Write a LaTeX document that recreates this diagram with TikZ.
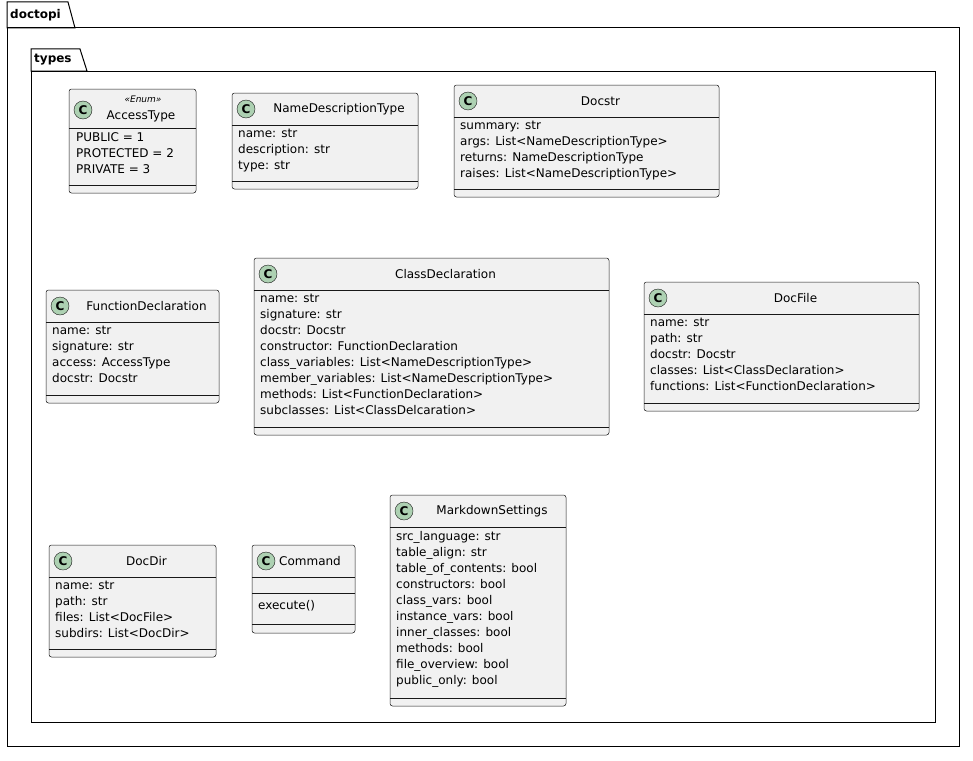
\documentclass[tikz,border=0pt]{standalone}
\usepackage{fontspec}
\setmainfont{DejaVu Sans}
\definecolor{clsfill}{HTML}{F1F1F1}
\definecolor{clsline}{HTML}{181818}
\definecolor{iconfill}{HTML}{ADD1B2}
\tikzset{
  cls/.style={draw=clsline, fill=clsfill, rounded corners=2.5pt, line width=0.5pt},
  pkg/.style={draw=black, line width=1pt},
  icon/.style={circle, draw=clsline, fill=iconfill, minimum size=18pt, inner sep=0pt, font=\fontsize{12}{12}\selectfont\bfseries},
  fields/.style={anchor=north west, align=left, inner sep=0pt, font=\fontsize{12}{16}\selectfont},
  title/.style={inner sep=0pt, font=\fontsize{12}{14}\selectfont},
}
% name, left, top, right, bottom, title, fields
\newcommand{\umlcls}[7]{%
  \draw[cls] (#2,#3) rectangle (#4,#5);
  \draw[clsline] (#2,#3+32) -- (#4,#3+32);
  \draw[clsline] (#2,#5-8) -- (#4,#5-8);
  \node[icon] (#1-icon) at (#2+14,#3+16) {C};
  \node[title] (#1) at ({(#2+28+#4)/2},#3+16) {#6};
  \node[fields] (#1-fields) at (#2+6,#3+36) {#7};
}
\begin{document}
\begin{tikzpicture}[x=1pt, y=-1pt]
\useasboundingbox (0,0) rectangle (973,760);
% packages
\draw[pkg, fill=white] (7,28) -- (7,2) -- (68,2) -- (75,28) -- cycle;
\node[font=\fontsize{12}{12}\selectfont\bfseries, anchor=west, inner sep=0pt] (doctopi) at (10,15) {doctopi};
\draw[pkg] (7,28) rectangle (959,746);
\draw[pkg] (31,71) -- (31,49) -- (80,49) -- (87,71) -- cycle;
\node[font=\fontsize{12}{12}\selectfont\bfseries, anchor=west, inner sep=0pt] (types) at (34,60) {types};
\draw[pkg] (31,71) rectangle (935,722);
% classes
\draw[cls] (69,89) rectangle (196,193);
\draw[clsline] (69,128) -- (196,128);
\draw[clsline] (69,185) -- (196,185);
\node[icon] (access-icon) at (83,110) {C};
\node[title, font=\fontsize{9}{9}\selectfont\itshape] (access-st) at (143,99) {«Enum»};
\node[title] (access) at (141,116) {AccessType};
\node[fields] (access-fields) at (76,132) {PUBLIC = 1\\PROTECTED = 2\\PRIVATE = 3};
\umlcls{namedesc}{232}{93}{418}{189}{NameDescriptionType}{name: str\\description: str\\type: str}
\umlcls{docstr}{454}{85}{719}{197}{Docstr}{summary: str\\args: List<NameDescriptionType>\\returns: NameDescriptionType\\raises: List<NameDescriptionType>}
\umlcls{funcdecl}{46}{290}{219}{403}{FunctionDeclaration}{name: str\\signature: str\\access: AccessType\\docstr: Docstr}
\umlcls{classdecl}{254}{258}{609}{435}{ClassDeclaration}{name: str\\signature: str\\docstr: Docstr\\constructor: FunctionDeclaration\\class\_variables: List<NameDescriptionType>\\member\_variables: List<NameDescriptionType>\\methods: List<FunctionDeclaration>\\subclasses: List<ClassDelcaration>}
\umlcls{docfile}{644}{282}{919}{411}{DocFile}{name: str\\path: str\\docstr: Docstr\\classes: List<ClassDeclaration>\\functions: List<FunctionDeclaration>}
\umlcls{docdir}{49}{545}{216}{657}{DocDir}{name: str\\path: str\\files: List<DocFile>\\subdirs: List<DocDir>}
\umlcls{mdset}{390}{495}{566}{706}{MarkdownSettings}{src\_language: str\\table\_align: str\\table\_of\_contents: bool\\constructors: bool\\class\_vars: bool\\instance\_vars: bool\\inner\_classes: bool\\methods: bool\\file\_overview: bool\\public\_only: bool}
\draw[cls] (252,545) rectangle (355,633);
\draw[clsline] (252,577) -- (355,577);
\draw[clsline] (252,593) -- (355,593);
\draw[clsline] (252,624) -- (355,624);
\node[icon] (command-icon) at (266,561) {C};
\node[title] (command) at (310,561) {Command};
\node[fields] (command-methods) at (258,600) {execute()};
\end{tikzpicture}
\end{document}
